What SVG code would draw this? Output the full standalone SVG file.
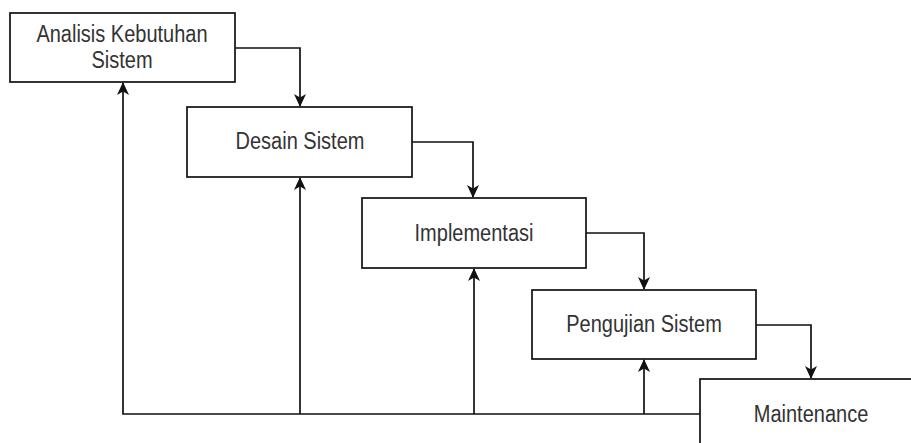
<svg xmlns="http://www.w3.org/2000/svg" width="911" height="443" viewBox="0 0 911 443">
  <style>
    .box { fill: #ffffff; stroke: #111111; stroke-width: 1.7; }
    .lbl { font-family: "Liberation Sans", Arial, sans-serif; font-size: 20px; fill: #333333; text-anchor: middle; }
    .edge { fill: none; stroke: #111111; stroke-width: 1.7; }
  </style>
  <defs>
    <marker id="arrow" viewBox="0 0 13 12" refX="12" refY="6" markerWidth="13" markerHeight="12" markerUnits="userSpaceOnUse" orient="auto">
      <path d="M0,0 L13,6 L0,12 L3.5,6 z" fill="#111111"/>
    </marker>
  </defs>
  <rect width="911" height="443" fill="#ffffff"/>

  <g id="connectors">
    <!-- forward flow -->
    <path class="edge" d="M235,48 H300 V106" marker-end="url(#arrow)"/>
    <path class="edge" d="M412,142 H473 V197" marker-end="url(#arrow)"/>
    <path class="edge" d="M586,233 H644 V289" marker-end="url(#arrow)"/>
    <path class="edge" d="M756,325 H811 V378" marker-end="url(#arrow)"/>
    <!-- feedback from maintenance -->
    <path class="edge" d="M700,414 H123 V83" marker-end="url(#arrow)"/>
    <path class="edge" d="M300,414 V178" marker-end="url(#arrow)"/>
    <path class="edge" d="M474,414 V269" marker-end="url(#arrow)"/>
    <path class="edge" d="M644,414 V360" marker-end="url(#arrow)"/>
  </g>

  <g id="analisis">
    <rect class="box" x="10" y="13" width="225" height="69"/>
    <text class="lbl" transform="translate(122,42) scale(1,1.15)">Analisis Kebutuhan</text>
    <text class="lbl" transform="translate(122,68) scale(1,1.15)">Sistem</text>
  </g>
  <g id="desain">
    <rect class="box" x="187" y="107" width="225" height="70"/>
    <text class="lbl" transform="translate(300,149) scale(1,1.15)">Desain Sistem</text>
  </g>
  <g id="implementasi">
    <rect class="box" x="362" y="198" width="224" height="70"/>
    <text class="lbl" transform="translate(474,241) scale(1,1.15)">Implementasi</text>
  </g>
  <g id="pengujian">
    <rect class="box" x="532" y="290" width="224" height="69"/>
    <text class="lbl" transform="translate(644,332) scale(1,1.15)">Pengujian Sistem</text>
  </g>
  <g id="maintenance">
    <rect class="box" x="700" y="379" width="224" height="70"/>
    <text class="lbl" transform="translate(811,422) scale(1,1.15)">Maintenance</text>
  </g>
</svg>
